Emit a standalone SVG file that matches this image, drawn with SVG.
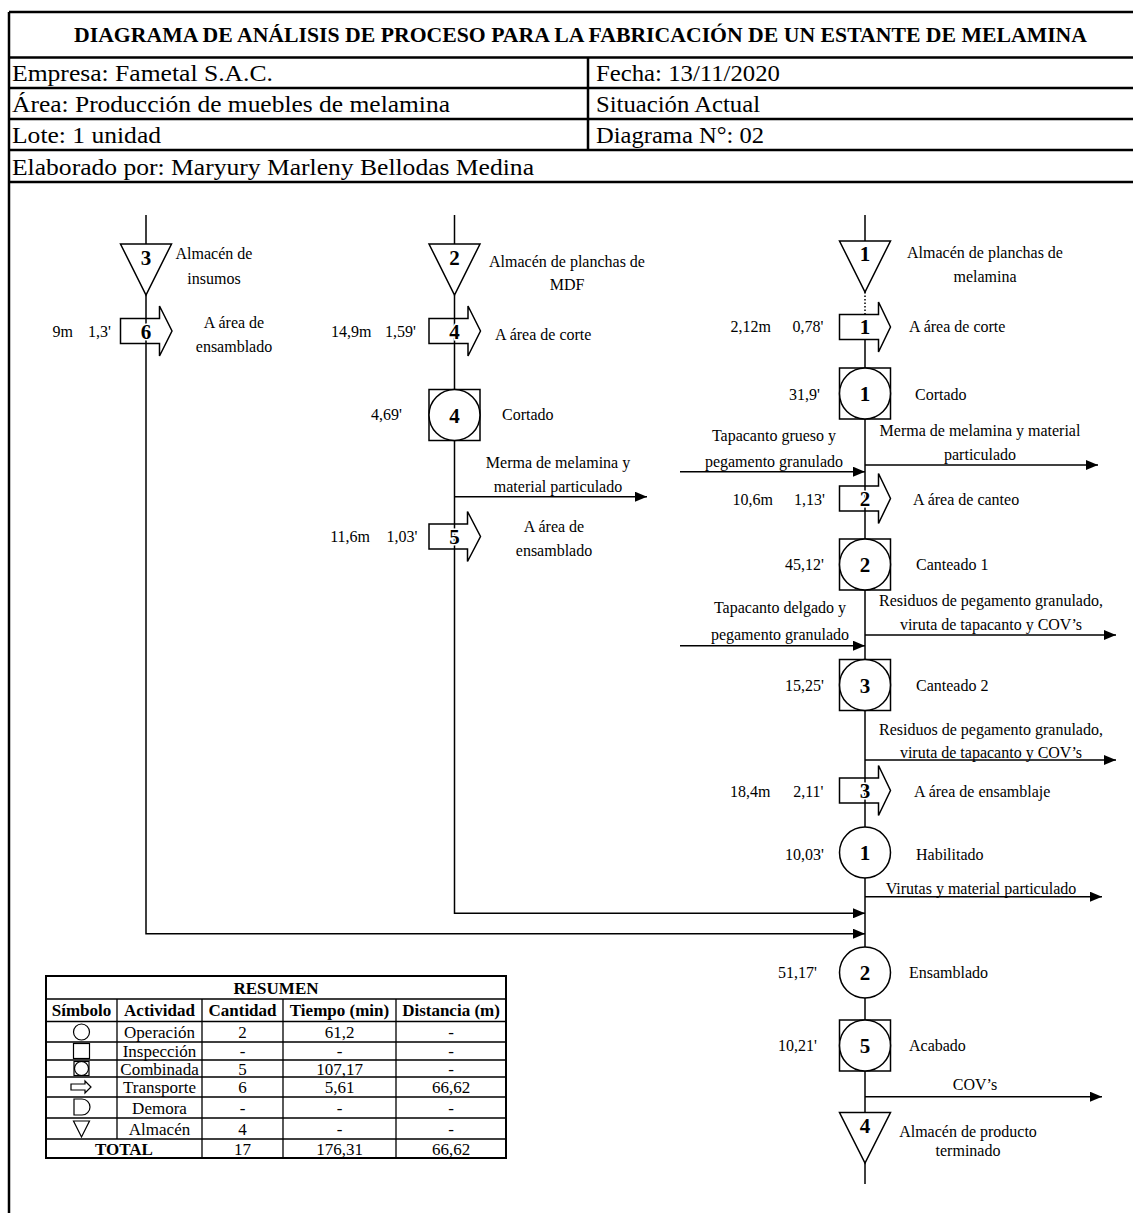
<svg xmlns="http://www.w3.org/2000/svg" width="1133" height="1213" viewBox="0 0 1133 1213">
<style>
text{font-family:"Liberation Serif","Times New Roman",serif;fill:#000}
.ti{font-size:22px;font-weight:bold}
.h{font-size:23px}
.l{font-size:16px}
.m{text-anchor:middle}
.e{text-anchor:end}
.n{font-size:21px;font-weight:bold;text-anchor:middle}
.na{font-size:21px;font-weight:bold;text-anchor:middle;stroke:#fff;stroke-width:3;paint-order:stroke}
.tb{font-size:17px;text-anchor:middle}
.tbb{font-size:17px;font-weight:bold;text-anchor:middle}
.fr{stroke:#000;stroke-width:2.5;fill:none}
.sym{fill:#fff;stroke:#000;stroke-width:1.5}
.tr{fill:#fff;stroke:#000;stroke-width:1.5}
.ln{fill:none;stroke:#000;stroke-width:1.5}
.tl{fill:none;stroke:#000;stroke-width:1.3}
.ts{fill:none;stroke:#000;stroke-width:1.2}
</style>
<defs>
<marker id="ah" markerUnits="userSpaceOnUse" markerWidth="12" markerHeight="10" refX="12" refY="5" orient="auto">
<path d="M0,0 L12,5 L0,10 Z" fill="#000"/>
</marker>
</defs>
<rect width="1133" height="1213" fill="#fff"/>

<g id="header">
<path class="fr" d="M9,12 V1213 M9,12 H1133 M9,57.5 H1133 M9,88 H1133 M9,119 H1133 M9,150 H1133 M9,182 H1133 M588,57.5 V150"/>
<text class="ti" x="74" y="42" textLength="1013" lengthAdjust="spacingAndGlyphs">DIAGRAMA DE ANÁLISIS DE PROCESO PARA LA FABRICACIÓN DE UN ESTANTE DE MELAMINA</text>
<text class="h" x="12" y="81" textLength="261" lengthAdjust="spacingAndGlyphs">Empresa: Fametal S.A.C.</text>
<text class="h" x="596" y="81" textLength="184" lengthAdjust="spacingAndGlyphs">Fecha: 13/11/2020</text>
<text class="h" x="12" y="112" textLength="438" lengthAdjust="spacingAndGlyphs">Área: Producción de muebles de melamina</text>
<text class="h" x="596" y="112" textLength="164" lengthAdjust="spacingAndGlyphs">Situación Actual</text>
<text class="h" x="12" y="143" textLength="149" lengthAdjust="spacingAndGlyphs">Lote: 1 unidad</text>
<text class="h" x="596" y="143" textLength="168" lengthAdjust="spacingAndGlyphs">Diagrama N°: 02</text>
<text class="h" x="12" y="175" textLength="522" lengthAdjust="spacingAndGlyphs">Elaborado por: Maryury Marleny Bellodas Medina</text>
</g>

<g id="connectors">
<path class="ln" d="M146,215 V244 M454.5,215 V244 M865,215 V241"/>
<path class="ln" d="M865,292 V314.5" stroke-dasharray="1.5,2"/>
<path class="ln" d="M865,314.5 V1184"/>
<path class="ln" d="M146,295 V933.7 H865" marker-end="url(#ah)"/>
<path class="ln" d="M454.5,295 V913.3 H865" marker-end="url(#ah)"/>
<path class="ln" d="M454.5,496.7 H647" marker-end="url(#ah)"/>
<path class="ln" d="M680,471.7 H865" marker-end="url(#ah)"/>
<path class="ln" d="M865,465 H1098" marker-end="url(#ah)"/>
<path class="ln" d="M680,645.7 H865" marker-end="url(#ah)"/>
<path class="ln" d="M865,635 H1116" marker-end="url(#ah)"/>
<path class="ln" d="M865,760 H1116" marker-end="url(#ah)"/>
<path class="ln" d="M865,896.7 H1102" marker-end="url(#ah)"/>
<path class="ln" d="M865,1096.7 H1102" marker-end="url(#ah)"/>
</g>

<!-- Left column -->
<g id="almacen3">
<path class="sym" d="M120.5,244 H171.5 L146,295 Z"/>
<text class="n" x="146" y="264.5">3</text>
<text class="l m" x="214" y="258.5">Almacén de</text>
<text class="l m" x="214" y="283.5">insumos</text>
</g>
<g id="transporte6">
<path class="tr" d="M120.5,318.5 H159.5 V306 L172,331 L159.5,356 V343.5 H120.5 Z"/>
<path class="ln" d="M146,318.5 V343.5"/>
<text class="na" x="146" y="338.5">6</text>
<text class="l e" x="73" y="337">9m</text>
<text class="l e" x="111" y="337">1,3'</text>
<text class="l m" x="234" y="328">A área de</text>
<text class="l m" x="234" y="352">ensamblado</text>
</g>

<!-- Middle column -->
<g id="almacen2">
<path class="sym" d="M429,244 H480 L454.5,295 Z"/>
<text class="n" x="454.5" y="264.5">2</text>
<text class="l m" x="567" y="267">Almacén de planchas de</text>
<text class="l m" x="567" y="290">MDF</text>
</g>
<g id="transporte4">
<path class="tr" d="M429,318.5 H468 V306 L480.5,331 L468,356 V343.5 H429 Z"/>
<path class="ln" d="M454.5,318.5 V343.5"/>
<text class="na" x="454.5" y="338.5">4</text>
<text class="l e" x="371.5" y="337">14,9m</text>
<text class="l e" x="416" y="337">1,59'</text>
<text class="l" x="495" y="340">A área de corte</text>
</g>
<g id="combinada4">
<rect class="sym" x="429" y="389.5" width="51" height="51"/>
<circle class="sym" cx="454.5" cy="415" r="25.5"/>
<text class="n" x="454.5" y="422.5">4</text>
<text class="l e" x="402" y="420">4,69'</text>
<text class="l" x="502" y="420">Cortado</text>
</g>
<g id="merma-mdf">
<text class="l m" x="558" y="468">Merma de melamina y</text>
<text class="l m" x="558" y="492">material particulado</text>
</g>
<g id="transporte5">
<path class="tr" d="M429,524 H467.5 V511.5 L480.5,536.5 L467.5,561.5 V549 H429 Z"/>
<path class="ln" d="M454.5,524 V549"/>
<text class="na" x="454.5" y="544">5</text>
<text class="l e" x="370" y="542">11,6m</text>
<text class="l e" x="417.5" y="542">1,03'</text>
<text class="l m" x="554" y="532">A área de</text>
<text class="l m" x="554" y="556">ensamblado</text>
</g>

<!-- Right column -->
<g id="almacen1">
<path class="sym" d="M839.5,241 H890.5 L865,292 Z"/>
<text class="n" x="865" y="261">1</text>
<text class="l m" x="985" y="258">Almacén de planchas de</text>
<text class="l m" x="985" y="282">melamina</text>
</g>
<g id="transporte1">
<path class="tr" d="M839.5,314.5 H878.5 V302 L890.5,327 L878.5,352 V339.5 H839.5 Z"/>
<text class="na" x="865" y="334">1</text>
<text class="l e" x="771" y="332">2,12m</text>
<text class="l e" x="823.5" y="332">0,78'</text>
<text class="l" x="909" y="332">A área de corte</text>
</g>
<g id="combinada1">
<rect class="sym" x="839.5" y="368" width="51" height="51"/>
<circle class="sym" cx="865" cy="393.5" r="25.5"/>
<text class="n" x="865" y="401">1</text>
<text class="l e" x="820" y="400">31,9'</text>
<text class="l" x="915" y="400">Cortado</text>
</g>
<g id="entrada1">
<text class="l m" x="774" y="441">Tapacanto grueso y</text>
<text class="l m" x="774" y="467">pegamento granulado</text>
</g>
<g id="salida1">
<text class="l m" x="980" y="436">Merma de melamina y material</text>
<text class="l m" x="980" y="460">particulado</text>
</g>
<g id="transporte2">
<path class="tr" d="M839.5,486 H878.5 V473.5 L890.5,498.5 L878.5,523.5 V511 H839.5 Z"/>
<path class="ln" d="M865,486 V511"/>
<text class="na" x="865" y="505.5">2</text>
<text class="l e" x="773" y="505">10,6m</text>
<text class="l e" x="825" y="505">1,13'</text>
<text class="l" x="913" y="505">A área de canteo</text>
</g>
<g id="combinada2">
<rect class="sym" x="839.5" y="539" width="51" height="51"/>
<circle class="sym" cx="865" cy="564.5" r="25.5"/>
<text class="n" x="865" y="572">2</text>
<text class="l e" x="824" y="570">45,12'</text>
<text class="l" x="916" y="570">Canteado 1</text>
</g>
<g id="entrada2">
<text class="l m" x="780" y="613">Tapacanto delgado y</text>
<text class="l m" x="780" y="640">pegamento granulado</text>
</g>
<g id="salida2">
<text class="l m" x="991" y="606">Residuos de pegamento granulado,</text>
<text class="l m" x="991" y="630">viruta de tapacanto y COV’s</text>
</g>
<g id="combinada3">
<rect class="sym" x="839.5" y="659.5" width="51" height="51"/>
<circle class="sym" cx="865" cy="685" r="25.5"/>
<text class="n" x="865" y="692.5">3</text>
<text class="l e" x="824" y="691">15,25'</text>
<text class="l" x="916" y="691">Canteado 2</text>
</g>
<g id="salida3">
<text class="l m" x="991" y="735">Residuos de pegamento granulado,</text>
<text class="l m" x="991" y="758">viruta de tapacanto y COV’s</text>
</g>
<g id="transporte3">
<path class="tr" d="M839.5,778 H878.5 V765.5 L890.5,790.5 L878.5,815.5 V803 H839.5 Z"/>
<path class="ln" d="M865,778 V803"/>
<text class="na" x="865" y="797.5">3</text>
<text class="l e" x="770.5" y="797">18,4m</text>
<text class="l e" x="823.5" y="797">2,11'</text>
<text class="l" x="914" y="797">A área de ensamblaje</text>
</g>
<g id="operacion1">
<circle class="sym" cx="865" cy="852.5" r="25.5"/>
<text class="n" x="865" y="860">1</text>
<text class="l e" x="824" y="860">10,03'</text>
<text class="l" x="916" y="860">Habilitado</text>
</g>
<g id="salida4">
<text class="l m" x="981" y="894">Virutas y material particulado</text>
</g>
<g id="operacion2">
<circle class="sym" cx="865" cy="972.5" r="25.5"/>
<text class="n" x="865" y="980">2</text>
<text class="l e" x="817" y="978">51,17'</text>
<text class="l" x="909" y="978">Ensamblado</text>
</g>
<g id="combinada5">
<rect class="sym" x="839.5" y="1020" width="51" height="51"/>
<circle class="sym" cx="865" cy="1045.5" r="25.5"/>
<text class="n" x="865" y="1053">5</text>
<text class="l e" x="817" y="1051">10,21'</text>
<text class="l" x="909" y="1051">Acabado</text>
</g>
<g id="salida5">
<text class="l m" x="975" y="1090">COV’s</text>
</g>
<g id="almacen4">
<path class="sym" d="M839.5,1112.5 H890.5 L865,1163 Z"/>
<text class="n" x="865" y="1133">4</text>
<text class="l m" x="968" y="1137">Almacén de producto</text>
<text class="l m" x="968" y="1156">terminado</text>
</g>

<!-- Summary table -->
<g id="resumen">
<rect x="46" y="976" width="460" height="182" fill="#fff" stroke="#000" stroke-width="2"/>
<path class="tl" d="M46,999 H506 M46,1021.5 H506 M46,1042 H506 M46,1060 H506 M46,1077 H506 M46,1097 H506 M46,1118 H506 M46,1139 H506"/>
<path class="tl" d="M117,999 V1139 M202,999 V1158 M283,999 V1158 M396,999 V1158"/>
<text class="tbb" x="276" y="993.5">RESUMEN</text>
<text class="tbb" x="81.5" y="1016">Símbolo</text>
<text class="tbb" x="159.5" y="1016">Actividad</text>
<text class="tbb" x="242.5" y="1016">Cantidad</text>
<text class="tbb" x="339.5" y="1016">Tiempo (min)</text>
<text class="tbb" x="451" y="1016">Distancia (m)</text>
<circle class="ts" cx="81.5" cy="1032" r="8"/>
<rect class="ts" x="73.5" y="1043.5" width="16" height="15"/>
<rect class="ts" x="74" y="1061.5" width="15" height="14" stroke-width="1.6"/>
<circle class="ts" cx="81.5" cy="1068.5" r="7" stroke-width="1.6"/>
<path class="ts" d="M71,1084 H85 V1081 L91,1087 L85,1093 V1090 H71 Z"/>
<path class="ts" d="M74,1099 H82 A8,8 0 0 1 82,1115 H74 Z"/>
<path class="ts" d="M73.5,1121 H89.5 L81.5,1137 Z"/>
<text class="tb" x="159.5" y="1038">Operación</text>
<text class="tb" x="159.5" y="1057">Inspección</text>
<text class="tb" x="159.5" y="1074.5">Combinada</text>
<text class="tb" x="159.5" y="1093">Transporte</text>
<text class="tb" x="159.5" y="1113.5">Demora</text>
<text class="tb" x="159.5" y="1134.5">Almacén</text>
<text class="tbb" x="124" y="1154.5">TOTAL</text>
<text class="tb" x="242.5" y="1038">2</text>
<text class="tb" x="339.5" y="1038">61,2</text>
<text class="tb" x="451" y="1038">-</text>
<text class="tb" x="242.5" y="1057">-</text>
<text class="tb" x="339.5" y="1057">-</text>
<text class="tb" x="451" y="1057">-</text>
<text class="tb" x="242.5" y="1074.5">5</text>
<text class="tb" x="339.5" y="1074.5">107,17</text>
<text class="tb" x="451" y="1074.5">-</text>
<text class="tb" x="242.5" y="1093">6</text>
<text class="tb" x="339.5" y="1093">5,61</text>
<text class="tb" x="451" y="1093">66,62</text>
<text class="tb" x="242.5" y="1113.5">-</text>
<text class="tb" x="339.5" y="1113.5">-</text>
<text class="tb" x="451" y="1113.5">-</text>
<text class="tb" x="242.5" y="1134.5">4</text>
<text class="tb" x="339.5" y="1134.5">-</text>
<text class="tb" x="451" y="1134.5">-</text>
<text class="tb" x="242.5" y="1154.5">17</text>
<text class="tb" x="339.5" y="1154.5">176,31</text>
<text class="tb" x="451" y="1154.5">66,62</text>
</g>
</svg>
